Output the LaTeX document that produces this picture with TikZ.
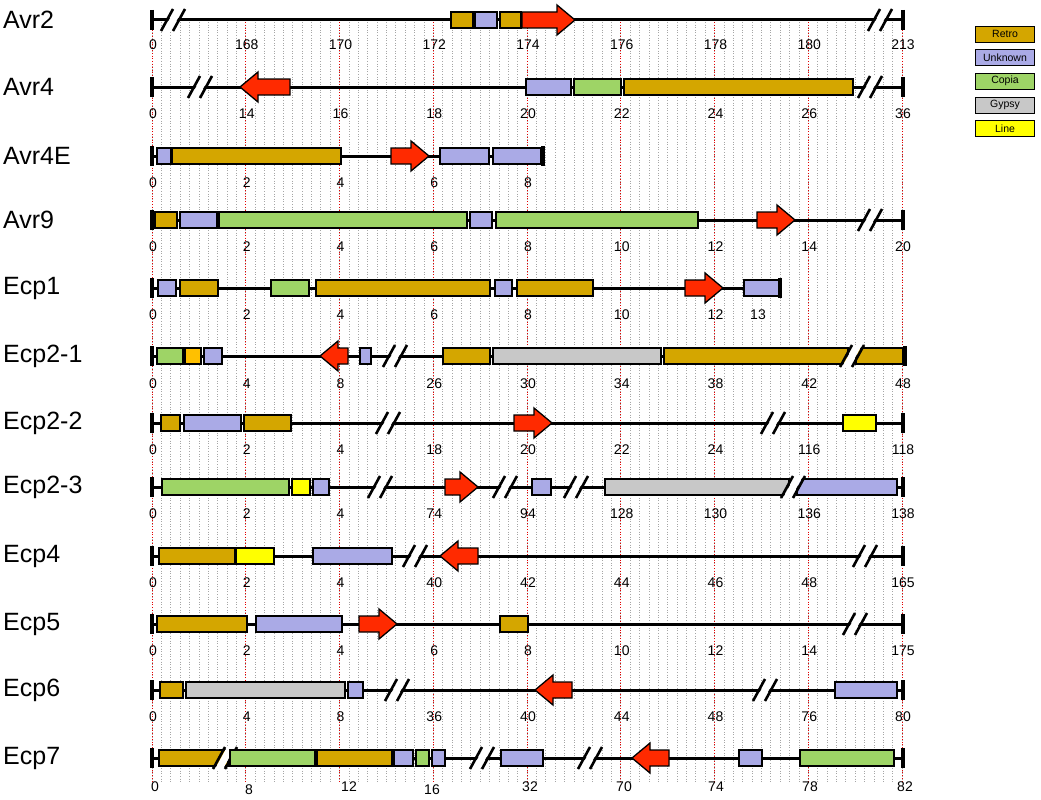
\documentclass[tikz,border=0pt]{standalone}
\usepackage{fontspec}
\setmainfont{Liberation Sans}
\begin{document}
\begin{tikzpicture}[x=1pt,y=-1pt,
  bx/.style={draw=black,line width=1.3pt},
  ln/.style={line width=3pt},
  num/.style={font=\fontsize{14}{14}\selectfont,inner sep=0,anchor=base},
  rowlab/.style={font=\fontsize{25}{26}\selectfont,anchor=west,inner sep=0},
  leg/.style={draw=black,line width=0.8pt,minimum width=59pt,minimum height=16pt,font=\fontsize{10.5}{10}\selectfont,inner sep=0}]
\definecolor{retro}{HTML}{D4A600}
\definecolor{unk}{HTML}{AAAAE6}
\definecolor{cop}{HTML}{9ED466}
\definecolor{gyp}{HTML}{C8C8C8}
\definecolor{yel}{HTML}{FFFF00}
\definecolor{org}{HTML}{FFC000}
\definecolor{arr}{HTML}{FF2A00}
\useasboundingbox (0,0) rectangle (1041,800);
\fill[white] (0,0) rectangle (1041,800);
% grid
\foreach \i in {0,...,80}{\draw[gray!70,dotted,line width=0.6pt] ({152+\i*9.375},22) -- ({152+\i*9.375},782);}
\foreach \i in {0,...,8}{\draw[red!90!black,dotted,line width=0.8pt] ({152+\i*93.75},22) -- ({152+\i*93.75},782);}
% macros
\newcommand{\gb}[4]{\draw[bx,fill=#4] (#1,#3-8) rectangle (#2,#3+8);}
\newcommand{\ra}[3]{\draw[bx,fill=arr] (#1,#3-8) -- (#2-18,#3-8) -- (#2-18,#3-15) -- (#2,#3) -- (#2-18,#3+15) -- (#2-18,#3+8) -- (#1,#3+8) -- cycle;}
\newcommand{\la}[3]{\draw[bx,fill=arr] (#2,#3-8) -- (#1+18,#3-8) -- (#1+18,#3-15) -- (#1,#3) -- (#1+18,#3+15) -- (#1+18,#3+8) -- (#2,#3+8) -- cycle;}
\newcommand{\brk}[2]{\fill[white] (#1-10,#2+11) -- (#1-2,#2+11) -- (#1+10,#2-11) -- (#1+2,#2-11) -- cycle;
  \draw[line width=2.6pt] (#1-12,#2+11) -- (#1,#2-11); \draw[line width=2.6pt] (#1,#2+11) -- (#1+12,#2-11);}
\newcommand{\row}[4]{\draw[ln] (152,#1) -- (#2,#1); \draw[line width=3.2pt] (152,#1-10) -- (152,#1+10); \draw[line width=3.2pt] (#2,#1-10) -- (#2,#1+10);
  \node[rowlab] (lab#4) at (3,#1) {#3};}
\newcommand{\nums}[2]{\foreach \t [count=\k from 0] in {#2}{\node[num] at ({153+\k*93.75},#1+5) {\t};}}
% Legend
\node[leg,fill=retro] (lr) at (1005,34) {Retro};
\node[leg,fill=unk] (lu) at (1005,57.5) {Unknown};
\node[leg,fill=cop] (lc) at (1005,81) {Copia};
\node[leg,fill=gyp] (lg) at (1005,105) {Gypsy};
\node[leg,fill=yel] (ll) at (1005,128.5) {Line};
% Avr2
\row{20}{903}{Avr2}{a}
\brk{173}{20}\brk{880}{20}
\gb{451}{473}{20}{retro}\gb{475}{497}{20}{unk}\gb{500}{521}{20}{retro}\ra{522}{575}{20}
\nums{44}{0,168,170,172,174,176,178,180,213}
% Avr4
\row{87}{903}{Avr4}{b}
\brk{200}{87}\brk{870}{87}
\la{240}{290}{87}
\gb{526}{571}{87}{unk}\gb{574}{621}{87}{cop}\gb{624}{853}{87}{retro}
\nums{113}{0,14,16,18,20,22,24,26,36}
% Avr4E
\row{156}{543}{Avr4E}{c}
\gb{157}{171}{156}{unk}\gb{172}{341}{156}{retro}\ra{391}{429}{156}\gb{440}{489}{156}{unk}\gb{493}{541}{156}{unk}
\nums{182}{0,2,4,6,8}
% Avr9
\row{220}{903}{Avr9}{d}
\brk{870}{220}
\gb{155}{177}{220}{retro}\gb{180}{217}{220}{unk}\gb{219}{467}{220}{cop}\gb{470}{492}{220}{unk}\gb{496}{698}{220}{cop}\ra{757}{795}{220}
\nums{246}{0,2,4,6,8,10,12,14,20}
% Ecp1
\row{288}{780}{Ecp1}{e}
\gb{158}{176}{288}{unk}\gb{180}{218}{288}{retro}\gb{271}{309}{288}{cop}\gb{316}{490}{288}{retro}\gb{495}{512}{288}{unk}\gb{517}{593}{288}{retro}\ra{685}{723}{288}\gb{744}{779}{288}{unk}
\nums{314}{0,2,4,6,8,10,12}
\node[num] at (758,319) {13};
% Ecp2-1
\row{356}{905}{Ecp2-1}{f}
\gb{157}{183}{356}{cop}\gb{185}{201}{356}{org}\gb{204}{222}{356}{unk}\la{320}{348}{356}\gb{360}{371}{356}{unk}
\brk{395}{356}
\gb{443}{490}{356}{retro}\gb{493}{661}{356}{gyp}\gb{664}{848}{356}{retro}\gb{856}{903}{356}{retro}
\brk{852}{356}
\nums{383}{0,4,8,26,30,34,38,42,48}
% Ecp2-2
\row{423}{903}{Ecp2-2}{g}
\gb{161}{180}{423}{retro}\gb{184}{241}{423}{unk}\gb{244}{291}{423}{retro}
\brk{388}{423}\ra{514}{552}{423}\brk{773}{423}
\gb{843}{876}{423}{yel}
\nums{449}{0,2,4,18,20,22,24,116,118}
% Ecp2-3
\row{487}{903}{Ecp2-3}{h}
\gb{162}{289}{487}{cop}\gb{292}{310}{487}{yel}\gb{313}{329}{487}{unk}
\brk{380}{487}\ra{445}{478}{487}\brk{505}{487}\gb{532}{551}{487}{unk}\brk{576}{487}
\gb{605}{789}{487}{gyp}\gb{797}{897}{487}{unk}\brk{793}{487}
\nums{513}{0,2,4,74,94,128,130,136,138}
% Ecp4
\row{556}{903}{Ecp4}{i}
\gb{159}{235}{556}{retro}\gb{236}{274}{556}{yel}\gb{313}{392}{556}{unk}
\brk{415}{556}\la{440}{478}{556}\brk{865}{556}
\nums{582}{0,2,4,40,42,44,46,48,165}
% Ecp5
\row{624}{903}{Ecp5}{j}
\gb{157}{247}{624}{retro}\gb{256}{342}{624}{unk}\ra{359}{397}{624}\gb{500}{528}{624}{retro}
\brk{855}{624}
\nums{650}{0,2,4,6,8,10,12,14,175}
% Ecp6
\row{690}{903}{Ecp6}{k}
\gb{160}{183}{690}{retro}\gb{186}{345}{690}{gyp}\gb{348}{363}{690}{unk}
\brk{397}{690}\la{535}{572}{690}\brk{765}{690}
\gb{835}{897}{690}{unk}
\nums{716}{0,4,8,36,40,44,48,76,80}
% Ecp7
\row{758}{903}{Ecp7}{l}
\gb{159}{228}{758}{retro}\brk{225}{758}
\gb{230}{315}{758}{cop}\gb{317}{392}{758}{retro}\gb{394}{413}{758}{unk}\gb{416}{429}{758}{cop}\gb{432}{445}{758}{unk}
\brk{482}{758}\gb{501}{543}{758}{unk}\brk{590}{758}\la{632}{669}{758}
\gb{739}{762}{758}{unk}\gb{800}{894}{758}{cop}
\node[num] at (155,791) {0};\node[num] at (249,794) {8};\node[num] at (349,791) {12};\node[num] at (432,794) {16};
\node[num] at (530,791) {32};\node[num] at (624,791) {70};\node[num] at (716,791) {74};\node[num] at (810,791) {78};\node[num] at (905,791) {82};
\end{tikzpicture}
\end{document}
